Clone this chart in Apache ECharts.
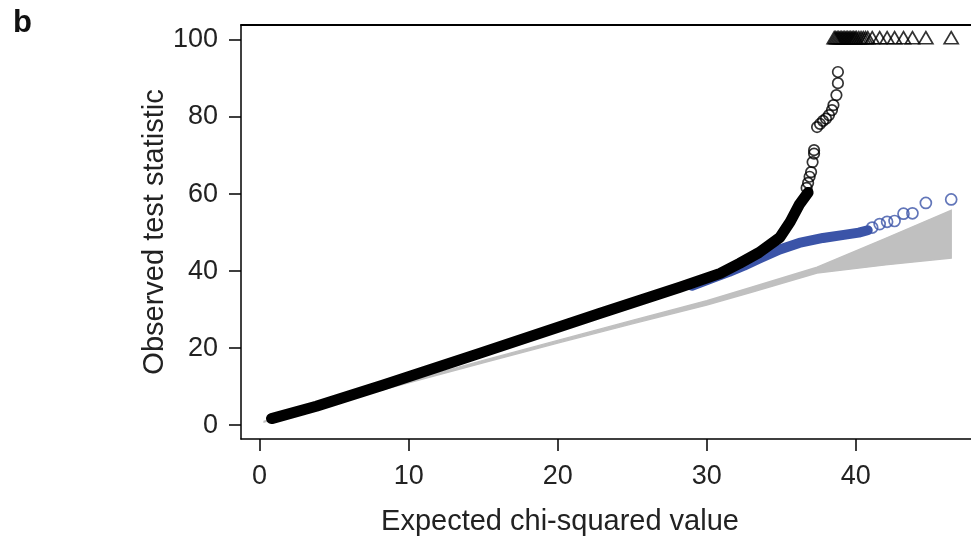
<!DOCTYPE html>
<html>
<head>
<meta charset="utf-8">
<script src="https://cdn.jsdelivr.net/npm/echarts@6/dist/echarts.min.js"></script>
<style>
  html, body { margin: 0; padding: 0; background: #fff; }
  #chart { width: 971px; height: 536px; }
</style>
</head>
<body>
<div id="chart"></div>
<script>
  // tick labels
  const xTicks = [0, 10, 20, 30, 40];
  const yTicks = [0, 20, 40, 60, 80, 100];

  // grey expected band (x, lower, upper)
  const bandX    = [0.3, 5,   10,   15,   20,   25,   30,   33,   37.4, 42,   46.4];
  const bandLow  = [0.8, 5.8, 11.0, 16.2, 21.3, 26.3, 31.2, 34.5, 39.5, 41.6, 43.4];
  const bandHigh = [1.0, 6.2, 11.5, 16.8, 22.0, 27.2, 32.3, 35.8, 41.0, 48.5, 55.8];

  // dense part of the black points (all SNPs)
  const blackDense = [[0.8, 1.7], [3.8, 4.9], [8.3, 10.4], [14.8, 18.7], [22.8, 29.0],
    [28.2, 35.8], [30.9, 39.4], [32.2, 42.0], [33.5, 44.8], [34.9, 48.7], [35.6, 52.8],
    [36.2, 57.2], [36.8, 60.4]];
  // sparse black tail
  const blackTail = [[36.7, 61.6], [36.8, 62.9], [36.9, 64.5], [37.0, 65.7], [37.1, 68.3],
    [37.2, 70.5], [37.2, 71.4], [37.4, 77.4], [37.6, 78.2], [37.8, 79.0], [38.0, 79.6],
    [38.2, 80.5], [38.4, 81.8], [38.5, 83.1], [38.7, 85.7], [38.8, 88.8], [38.8, 91.7]];
  // capped at 100 (triangles)
  const cappedX = [38.55, 38.65, 38.75, 38.85, 38.95, 39.05, 39.15, 39.25, 39.35, 39.45,
    39.55, 39.65, 39.75, 39.85, 39.95, 40.05, 40.2, 40.35, 40.5, 40.65, 40.8,
    41.1, 41.6, 42.1, 42.6, 43.2, 43.8, 44.7, 46.4];
  const capValue = 100.6;

  // blue points (excluded region)
  const blueDense = [[29.0, 36.2], [30.5, 38.4], [31.5, 39.8], [32.5, 41.4], [33.5, 43.2],
    [34.9, 45.6], [36.2, 47.3], [37.8, 48.6], [39.2, 49.4], [40.2, 50.0], [40.8, 50.6]];
  const blueTail = [[41.1, 51.3], [41.6, 52.2], [42.1, 52.8], [42.6, 53.0], [43.2, 54.9],
    [43.8, 55.0], [44.7, 57.7], [46.4, 58.6]];

  const font = "'Liberation Sans', Arial, Helvetica, sans-serif";
  const chart = echarts.init(document.getElementById('chart'));

  chart.setOption({
    animation: false,
    title: {
      text: 'b', left: 8, top: 3,
      textStyle: { fontFamily: font, fontSize: 31, fontWeight: 'bold', color: '#111' }
    },
    grid: { left: 241, right: -10, top: 25, bottom: 97, outerBoundsMode: 'none' },
    xAxis: [{
      type: 'value', min: -1.25, max: 48.4,
      name: 'Expected chi-squared value', nameLocation: 'middle', nameGap: 68,
      nameMoveOverlap: false,
      nameTextStyle: { fontFamily: font, fontSize: 29, color: '#222', padding: [0, 102, 0, 0] },
      axisLine: { show: true, onZero: false, lineStyle: { color: '#000', width: 1.5 } },
      axisTick: { show: true, length: 12, customValues: xTicks, lineStyle: { color: '#000', width: 1.5 } },
      axisLabel: { customValues: xTicks, margin: 24, fontFamily: font, fontSize: 27, color: '#222' },
      splitLine: { show: false }
    }, {
      // top frame line only
      type: 'value', position: 'top', min: -1.25, max: 48.4,
      axisLine: { show: true, onZero: false, lineStyle: { color: '#000', width: 1.8 } },
      axisTick: { show: false }, axisLabel: { show: false }, splitLine: { show: false }
    }],
    yAxis: {
      type: 'value', min: -3.6, max: 103.9,
      name: 'Observed test statistic', nameLocation: 'middle', nameGap: 72,
      nameMoveOverlap: false,
      nameTextStyle: { fontFamily: font, fontSize: 29, color: '#222' },
      axisLine: { show: true, onZero: false, lineStyle: { color: '#000', width: 1.5 } },
      axisTick: { show: true, length: 12, customValues: yTicks, lineStyle: { color: '#000', width: 1.5 } },
      axisLabel: { customValues: yTicks, margin: 23, fontFamily: font, fontSize: 27, color: '#222' },
      splitLine: { show: false }
    },
    series: [
      {
        type: 'custom',
        data: [[0, 0]],
        z: 1,
        renderItem: function (params, api) {
          const pts = [];
          for (let i = 0; i < bandX.length; i++) pts.push(api.coord([bandX[i], bandLow[i]]));
          for (let i = bandX.length - 1; i >= 0; i--) pts.push(api.coord([bandX[i], bandHigh[i]]));
          return {
            type: 'polygon',
            shape: { points: pts },
            style: { fill: '#c0c0c0', stroke: '#c0c0c0', lineWidth: 1.4 }
          };
        }
      },
      {
        type: 'line', data: blueDense, showSymbol: false, z: 2,
        lineStyle: { color: '#3b54a8', width: 10, cap: 'round', join: 'round' }
      },
      {
        type: 'scatter', data: blueTail, symbol: 'circle', symbolSize: 11, z: 2,
        itemStyle: { color: 'rgba(0,0,0,0)', borderColor: '#3b54a8', borderWidth: 1.7 }
      },
      {
        type: 'line', data: blackDense, showSymbol: false, z: 3,
        lineStyle: { color: '#000', width: 11, cap: 'round', join: 'round' }
      },
      {
        type: 'scatter', data: blackTail, symbol: 'circle', symbolSize: 10.5, z: 3,
        itemStyle: { color: 'rgba(0,0,0,0)', borderColor: '#000', borderWidth: 1.7 }
      },
      {
        type: 'scatter', data: cappedX.map(function (x) { return [x, capValue]; }),
        symbol: 'triangle', symbolSize: [14, 12], z: 3,
        itemStyle: { color: 'rgba(0,0,0,0)', borderColor: '#000', borderWidth: 1.7 }
      }
    ]
  });
</script>
</body>
</html>
